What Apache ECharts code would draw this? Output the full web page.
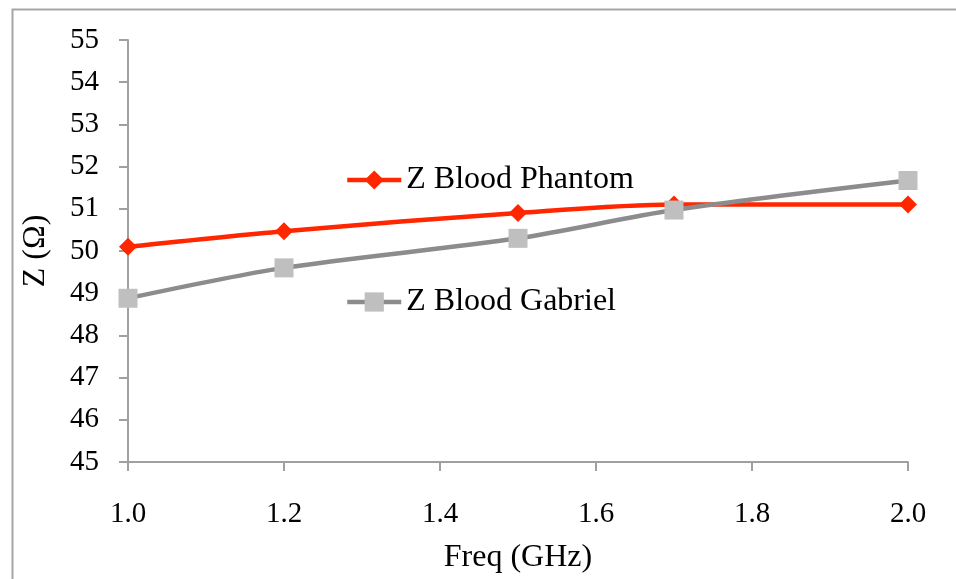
<!DOCTYPE html>
<html>
<head>
<meta charset="utf-8">
<script src="https://cdn.jsdelivr.net/npm/echarts@6/dist/echarts.min.js"></script>
<style>
html,body{margin:0;padding:0;background:#fff;}
#chart{width:956px;height:579px;}
</style>
</head>
<body>
<div id="chart"></div>
<script>
var freq = [1.0, 1.2, 1.5, 1.7, 2.0];
var zPhantom = [50.1, 50.47, 50.9, 51.1, 51.1];
var zGabriel = [48.88, 49.6, 50.3, 50.97, 51.67];
var seriesNames = ['Z Blood Phantom', 'Z Blood Gabriel'];
var xTitle = 'Freq (GHz)';
var yTitle = 'Z (Ω)';

function pairs(xs, ys){ return xs.map(function(x,i){ return [x, ys[i]]; }); }

var font = 'Liberation Serif';
var chart = echarts.init(document.getElementById('chart'));
chart.setOption({
  animation: false,
  backgroundColor: '#fff',
  graphic: [{
    type: 'rect', left: 10, top: 7, shape: {width: 960, height: 600},
    style: {fill: 'none', stroke: '#A6A6A6', lineWidth: 2}, silent: true
  }],
  grid: {left: 128, right: 48, top: 40, bottom: 115},
  legend: [{
    data: [seriesNames[0]], left: 345, top: 164, padding: 0, itemWidth: 54, itemHeight: 24, itemGap: 5,
    lineStyle: {width: 4.5},
    textStyle: {fontFamily: font, fontSize: 32, color: '#000'}
  }, {
    data: [seriesNames[1]], left: 345, top: 286, padding: 0, itemWidth: 54, itemHeight: 24, itemGap: 5,
    lineStyle: {width: 4.5},
    textStyle: {fontFamily: font, fontSize: 32, color: '#000'}
  }],
  xAxis: {
    type: 'value', min: 1.0, max: 2.0, interval: 0.2,
    name: xTitle, nameLocation: 'middle', nameGap: 80,
    nameTextStyle: {fontFamily: font, fontSize: 32, color: '#000'},
    axisLine: {lineStyle: {color: '#A0A0A0', width: 2}},
    axisTick: {show: true, length: 9, lineStyle: {color: '#A0A0A0', width: 2}},
    axisLabel: {margin: 38, fontFamily: font, fontSize: 29, color: '#000',
      formatter: function(v){ return v.toFixed(1); }},
    splitLine: {show: false}
  },
  yAxis: {
    type: 'value', min: 45, max: 55, interval: 1,
    name: yTitle, nameLocation: 'middle', nameGap: 76,
    nameTextStyle: {fontFamily: font, fontSize: 32, color: '#000'},
    axisLine: {show: true, lineStyle: {color: '#A0A0A0', width: 2}},
    axisTick: {show: true, length: 9, lineStyle: {color: '#A0A0A0', width: 2}},
    axisLabel: {margin: 29, fontFamily: font, fontSize: 29, color: '#000'},
    splitLine: {show: false}
  },
  series: [{
    name: seriesNames[0], type: 'line', data: pairs(freq, zPhantom),
    smooth: 0.3, symbol: 'diamond', symbolSize: 18,
    lineStyle: {color: '#FF2600', width: 4.5},
    itemStyle: {color: '#FF2600'}
  }, {
    name: seriesNames[1], type: 'line', data: pairs(freq, zGabriel),
    smooth: 0.3, symbol: 'rect', symbolSize: 19,
    lineStyle: {color: '#8C8C8C', width: 4.5},
    itemStyle: {color: '#BFBFBF'}
  }]
});
</script>
</body>
</html>
